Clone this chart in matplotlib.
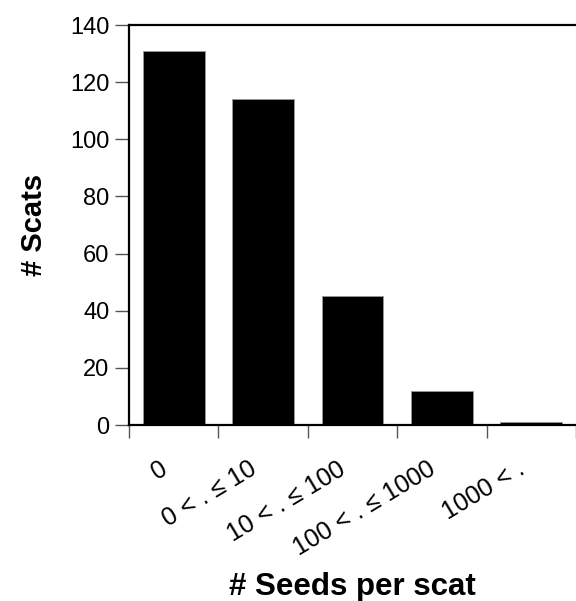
import matplotlib
matplotlib.use("Agg")
import matplotlib.pyplot as plt
import matplotlib.transforms as mtransforms
import numpy as np

plt.rcParams['font.family'] = ['Liberation Sans', 'DejaVu Sans']

categories = ["0", "0 < . \u2264 10", "10 < . \u2264 100", "100 < . \u2264 1000", "1000 < ."]
scats = [131, 114, 45, 12, 1]

fig = plt.figure(figsize=(5.76, 6.01), dpi=100)
ax = fig.add_axes([0.224, 0.2928, 0.776, 0.6656])

x = np.arange(len(categories))
ax.bar(x, scats, width=0.69, color="black", edgecolor="#999999", linewidth=0.6)

ax.set_xlim(-0.5, len(categories) - 0.5)
ax.set_ylim(0, 140)
ax.set_yticks(range(0, 141, 20))
ax.tick_params(axis="y", direction="out", length=10, width=1, labelsize=17, pad=4, color="#555555")

ax.set_xticks(x)
ax.set_xticklabels(categories, rotation=31, ha="right", va="top", rotation_mode="anchor")
ax.tick_params(axis="x", which="major", length=0, labelsize=18, pad=23)
ax.set_xticks(np.arange(-0.5, len(categories), 1), minor=True)
ax.tick_params(axis="x", which="minor", direction="out", length=9, width=1, color="#555555")

# nudge rotated labels left, like the original
shift = mtransforms.ScaledTranslation(-15 / 100, 0, fig.dpi_scale_trans)
for lbl in ax.get_xticklabels():
    lbl.set_transform(lbl.get_transform() + shift)

ax.spines["right"].set_visible(False)
for s in ["left", "top", "bottom"]:
    ax.spines[s].set_linewidth(1.6)

ax.set_ylabel("# Scats", fontsize=21, fontweight="bold", labelpad=16)
ax.set_xlabel("# Seeds per scat", fontsize=22.5, fontweight="bold", labelpad=8)

fig.savefig("out.png", dpi=100)
